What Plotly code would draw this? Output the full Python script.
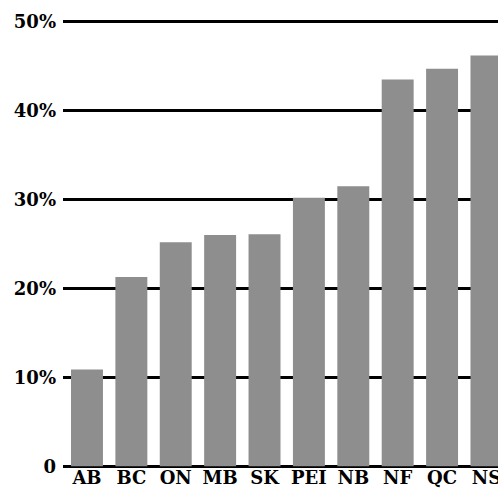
import plotly.graph_objects as go

provinces = ["AB", "BC", "ON", "MB", "SK", "PEI", "NB", "NF", "QC", "NS"]
values = [10.9, 21.3, 25.2, 26.0, 26.1, 30.2, 31.5, 43.5, 44.7, 46.2]
tick_vals = [0, 10, 20, 30, 40, 50]
tick_text = ["0", "10%", "20%", "30%", "40%", "50%"]

fig = go.Figure(go.Bar(x=provinces, y=values, marker=dict(color="#8e8e8e", line=dict(width=0)),
                       hoverinfo="skip"))

font = dict(family="DejaVu Serif", size=18, color="black", weight="bold")
fig.update_layout(
    width=498, height=492,
    margin=dict(l=63, r=0, t=19, b=23),
    plot_bgcolor="white", paper_bgcolor="white",
    bargap=0.28, showlegend=False, font=font,
)
fig.update_xaxes(range=[-0.54, 9.26], showgrid=False, showline=False, zeroline=False,
                 ticks="", tickfont=font, automargin=False, ticklabelstandoff=-4)
fig.update_yaxes(range=[-0.3, 50.3], tickvals=tick_vals, ticktext=tick_text,
                 showgrid=True, gridcolor="black", gridwidth=3,
                 zeroline=True, zerolinecolor="black", zerolinewidth=3,
                 showline=False, ticks="", ticklabelstandoff=6, tickfont=font,
                 automargin=False)
fig.write_html(
    "out.html",
    config={"displayModeBar": False},
    post_script="document.body.style.margin='0';document.body.style.overflow='hidden';"
                "document.documentElement.style.overflow='hidden';",
)
